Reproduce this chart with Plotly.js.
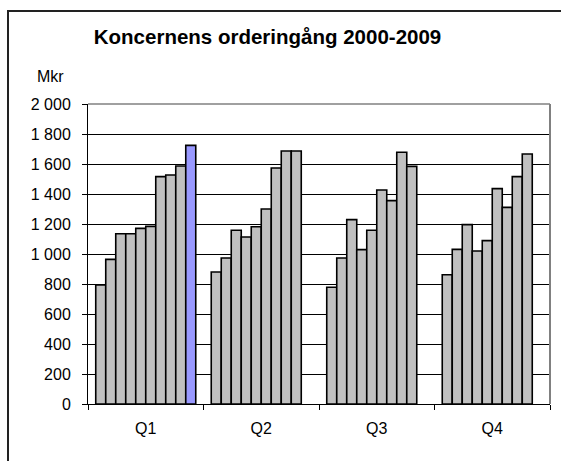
<!DOCTYPE html>
<html>
<head>
<meta charset="utf-8">
<script src="https://cdn.plot.ly/plotly-3.0.1.min.js"></script>
<style>
html,body{margin:0;padding:0;background:#fff;overflow:hidden;}
#wrap{position:relative;width:561px;height:461px;overflow:hidden;}
#chart{width:561px;height:461px;}
#frame{position:absolute;left:7px;top:10px;width:700px;height:700px;border-top:2px solid #222;border-left:2px solid #222;pointer-events:none;}
</style>
</head>
<body>
<div id="wrap"><div id="chart"></div><div id="frame"></div></div>
<script>
var quarters = ['Q1', 'Q2', 'Q3', 'Q4'];
var years = ['2000', '2001', '2002', '2003', '2004', '2005', '2006', '2007', '2008', '2009'];
var v2000 = [793, 880, 778, 862];
var v2001 = [964, 973, 973, 1031];
var v2002 = [1135, 1158, 1229, 1196];
var v2003 = [1135, 1113, 1029, 1020];
var v2004 = [1171, 1182, 1158, 1089];
var v2005 = [1184, 1300, 1427, 1436];
var v2006 = [1516, 1573, 1356, 1311];
var v2007 = [1527, 1687, 1678, 1516];
var v2008 = [1587, 1687, 1584, 1667];
var v2009 = [1724, null, null, null];
var yTicks = [0, 200, 400, 600, 800, 1000, 1200, 1400, 1600, 1800, 2000];
var titleText = 'Koncernens orderingång 2000-2009';
var unitText = 'Mkr';

var series = [v2000, v2001, v2002, v2003, v2004, v2005, v2006, v2007, v2008, v2009];
var traces = series.map(function (vals, i) {
  return {
    type: 'bar',
    name: years[i],
    x: quarters,
    y: vals,
    marker: {
      color: i === 9 ? '#9999FF' : '#C0C0C0',
      line: { color: '#000000', width: 1.6 }
    },
    hoverinfo: 'none'
  };
});

var W = 561, H = 461;
var L = 88, R = 11, T = 104, B = 57;
var pw = W - L - R, ph = H - T - B;
function px(x) { return (x - L) / pw; }
function py(y) { return (H - B - y) / ph; }

var font = 'Liberation Sans, Arial, sans-serif';

var layout = {
  width: W, height: H,
  margin: { l: L, r: R, t: T, b: B, pad: 0 },
  paper_bgcolor: '#ffffff',
  plot_bgcolor: '#ffffff',
  showlegend: false,
  separators: ', ',
  barmode: 'group',
  bargap: 0.134,
  bargroupgap: 0,
  font: { family: font, size: 16, color: '#000' },
  title: {
    text: '<b>' + titleText + '</b>',
    font: { family: font, size: 20.5, color: '#000' },
    xref: 'paper', x: px(267.5), xanchor: 'center',
    yref: 'container', y: 1 - 37 / H, yanchor: 'middle'
  },
  xaxis: {
    type: 'category',
    categoryarray: quarters,
    showline: true, linecolor: '#000', linewidth: 1,
    ticks: 'outside', tickson: 'boundaries', ticklen: 5, tickcolor: '#000', tickwidth: 1,
    ticklabelstandoff: 10,
    showgrid: false, zeroline: false,
    tickfont: { family: font, size: 16, color: '#000' }
  },
  yaxis: {
    range: [0, 2000],
    tickvals: yTicks,
    tickformat: ',d',
    showline: true, linecolor: '#000', linewidth: 1,
    ticks: 'outside', ticklen: 5, tickcolor: '#000', tickwidth: 1,
    ticklabelstandoff: 8,
    showgrid: true, gridcolor: '#000', gridwidth: 1,
    zeroline: false,
    tickfont: { family: font, size: 16, color: '#000' }
  },
  annotations: [{
    text: unitText,
    xref: 'paper', yref: 'paper',
    x: px(50), y: py(77), xanchor: 'center', yanchor: 'middle',
    showarrow: false,
    font: { family: font, size: 16, color: '#000' }
  }],
  shapes: [
    { type: 'line', xref: 'paper', yref: 'paper', x0: 0, x1: 1, y0: 1, y1: 1,
      line: { color: '#808080', width: 1.5 }, layer: 'above' },
    { type: 'line', xref: 'paper', yref: 'paper', x0: 1, x1: 1, y0: 0, y1: 1,
      line: { color: '#808080', width: 2 }, layer: 'above' }
  ]
};

Plotly.newPlot('chart', traces, layout, { staticPlot: true, displayModeBar: false });
</script>
</body>
</html>
